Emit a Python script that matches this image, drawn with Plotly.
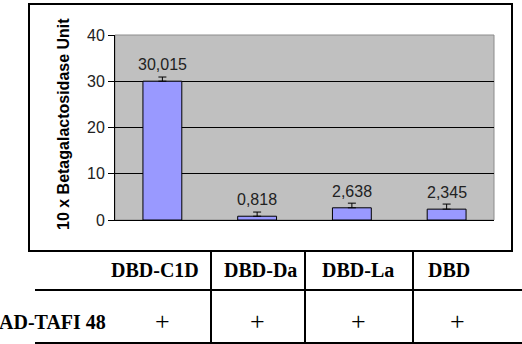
import plotly.graph_objects as go

categories = ["DBD-C1D", "DBD-Da", "DBD-La", "DBD"]
values = [30.015, 0.818, 2.638, 2.345]
value_labels = ["30,015", "0,818", "2,638", "2,345"]
errors = [0.9, 0.9, 1.0, 1.1]
row_label = "AD-TAFI 48"
row_marks = ["+", "+", "+", "+"]
y_title = "10 x Betagalactosidase Unit"

W, H = 522, 344
L, R, T, B = 115, 494, 35, 220  # plot area in px


def px(x):
    return (x - L) / (R - L)


def py(y):
    return (B - y) / (B - T)


fig = go.Figure()
fig.add_trace(go.Bar(
    x=categories, y=values, width=0.41,
    marker=dict(color="#9999ff", line=dict(color="black", width=1)),
    error_y=dict(type="data", symmetric=False, array=errors, arrayminus=[0] * len(errors),
                 visible=True, color="black", thickness=1, width=4),
    hoverinfo="skip",
))

annotations = []
for c, v, lab in zip(categories, values, value_labels):
    annotations.append(dict(x=c, y=v, xref="x", yref="y", text=lab, showarrow=False,
                            yanchor="bottom", yshift=6,
                            font=dict(family="Arial, Liberation Sans", size=16, color="#222")))

annotations.append(dict(x=px(63), y=py(124), xref="paper", yref="paper", text="<b>" + y_title + "</b>",
                        textangle=-90, showarrow=False, xanchor="center", yanchor="middle",
                        font=dict(family="Arial, Liberation Sans", size=16, color="black")))

header_x = [155, 260, 358, 449]
mark_x = [162, 257, 358, 457]
serif = "Times New Roman, Liberation Serif, serif"
for c, hx in zip(categories, header_x):
    annotations.append(dict(x=px(hx), y=py(270), xref="paper", yref="paper", text="<b>" + c + "</b>",
                            showarrow=False, xanchor="center", yanchor="middle",
                            font=dict(family=serif, size=20, color="black")))
for m, mx in zip(row_marks, mark_x):
    annotations.append(dict(x=px(mx), y=py(321), xref="paper", yref="paper", text=m,
                            showarrow=False, xanchor="center", yanchor="middle",
                            font=dict(family=serif, size=26, color="black")))
annotations.append(dict(x=px(108), y=py(322), xref="paper", yref="paper", text="<b>" + row_label + "</b>",
                        showarrow=False, xanchor="right", yanchor="middle",
                        font=dict(family=serif, size=20, color="black")))

shapes = [
    # plot area grey border
    dict(type="rect", xref="paper", yref="paper", x0=0, x1=1, y0=0, y1=1,
         line=dict(color="#8c8c8c", width=1), layer="below"),
    # outer chart box
    dict(type="rect", xref="paper", yref="paper", x0=px(29), x1=px(512), y0=py(251), y1=py(4),
         line=dict(color="black", width=2)),
]
for vx in [211, 305, 413]:
    shapes.append(dict(type="line", xref="paper", yref="paper", x0=px(vx), x1=px(vx),
                       y0=py(250), y1=py(345), line=dict(color="black", width=2)))
for hy in [290, 343]:
    shapes.append(dict(type="line", xref="paper", yref="paper", x0=px(35), x1=px(523),
                       y0=py(hy), y1=py(hy), line=dict(color="black", width=2)))

fig.update_layout(
    width=W, height=H,
    margin=dict(l=L, r=W - R, t=T, b=H - B),
    paper_bgcolor="white", plot_bgcolor="#c0c0c0",
    showlegend=False,
    annotations=annotations, shapes=shapes,
    xaxis=dict(showticklabels=False, ticks="", showgrid=False, showline=True,
               linecolor="black", linewidth=1, zeroline=False, fixedrange=True),
    yaxis=dict(range=[0, 40], dtick=10, ticks="outside", ticklen=6, tickcolor="black",
               showline=True, linecolor="black", linewidth=1, showgrid=True,
               gridcolor="black", gridwidth=1, zeroline=False,
               tickfont=dict(family="Arial, Liberation Sans", size=16, color="#222"),
               fixedrange=True),
)

fig.write_html("out.html", config={"displayModeBar": False})
